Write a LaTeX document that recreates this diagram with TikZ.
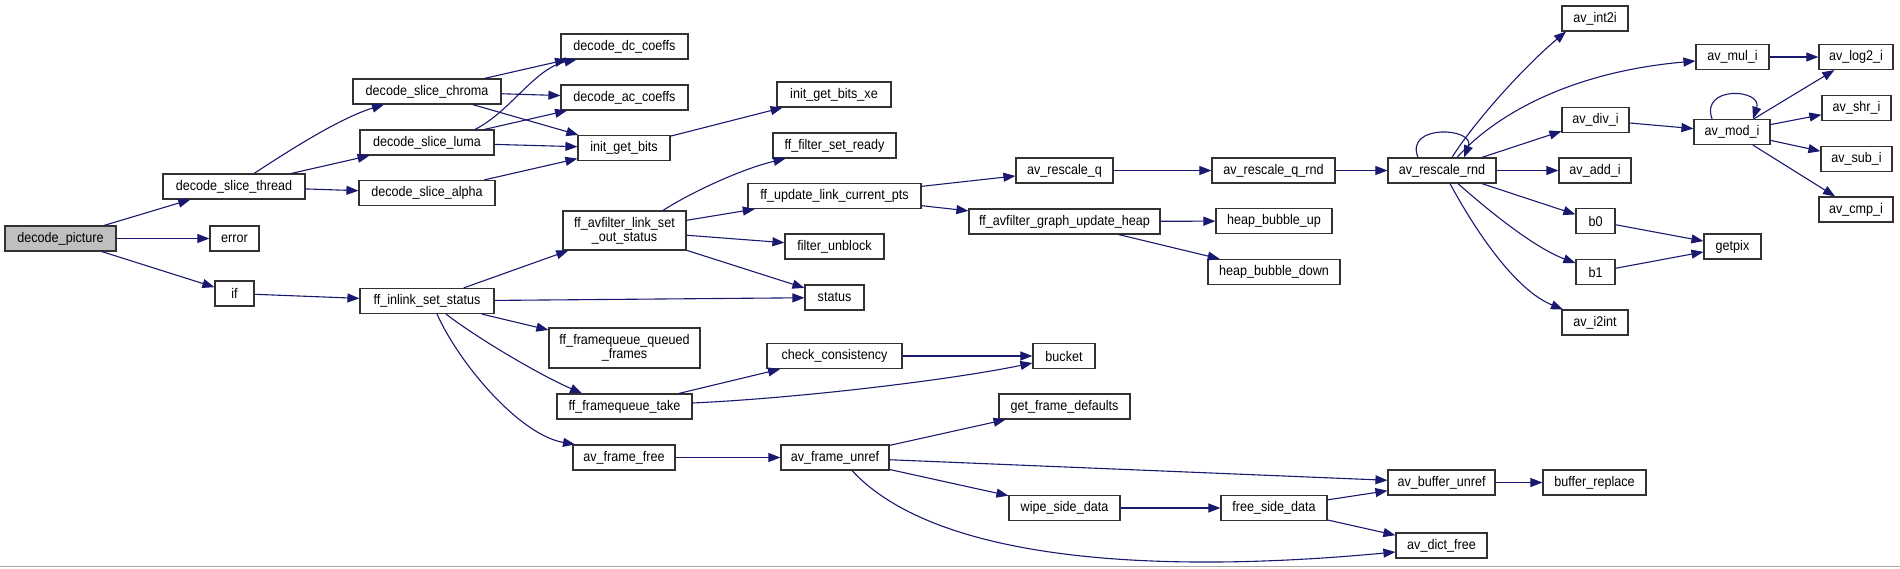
\documentclass[tikz,border=0pt]{standalone}
\usepackage{fontspec}
\setmainfont{Liberation Sans}[FakeStretch=0.9]
\usetikzlibrary{arrows.meta}
\definecolor{edgec}{RGB}{25,25,112}
\definecolor{boxc}{RGB}{50,50,50}
\definecolor{rootc}{RGB}{191,191,191}
\begin{document}
\begin{tikzpicture}[x=1pt,y=-1pt,
  font=\fontsize{14}{14}\selectfont,
  box/.style={draw=boxc,line width=1.2pt,fill=white,inner sep=0pt,minimum height=25pt,align=center},
  rootbox/.style={box,fill=rootc},
  edge/.style={draw=edgec,line width=1.1pt,-{Triangle[length=12pt,width=9pt]}}]
\useasboundingbox[fill=white] (0,0) rectangle (1900,568);
\draw[gray!70,line width=1.2pt] (0,566.5) -- (1900,566.5);
% column 0
\node[rootbox,minimum width=111pt] (dp) at (60.5,238.5) {decode\_picture};
% column 1
\node[box,minimum width=142pt] (dst) at (234,186.5) {decode\_slice\_thread};
\node[box,minimum width=49pt] (err) at (234.5,238.5) {error};
\node[box,minimum width=39pt] (if) at (234.5,293.5) {if};
% column 2
\node[box,minimum width=148pt] (chroma) at (427,91.5) {decode\_slice\_chroma};
\node[box,minimum width=134pt] (luma) at (427,142.5) {decode\_slice\_luma};
\node[box,minimum width=136pt] (alpha) at (427,193) {decode\_slice\_alpha};
\node[box,minimum width=134pt] (inlink) at (427,301) {ff\_inlink\_set\_status};
% column 3
\node[box,minimum width=127pt] (dc) at (624.5,46.5) {decode\_dc\_coeffs};
\node[box,minimum width=127pt] (ac) at (624.5,97.5) {decode\_ac\_coeffs};
\node[box,minimum width=92pt] (igb) at (624,148) {init\_get\_bits};
\node[box,minimum width=123pt,minimum height=39pt] (lso) at (624.5,230.5) {ff\_avfilter\_link\_set\\\_out\_status};
\node[box,minimum width=151pt,minimum height=40pt] (qf) at (624.5,348) {ff\_framequeue\_queued\\\_frames};
\node[box,minimum width=135pt] (take) at (624.5,406.5) {ff\_framequeue\_take};
\node[box,minimum width=102pt] (aff) at (624,457.5) {av\_frame\_free};
% column 4
\node[box,minimum width=114pt] (igbxe) at (834,94.5) {init\_get\_bits\_xe};
\node[box,minimum width=123pt] (fsr) at (834.5,145.5) {ff\_filter\_set\_ready};
\node[box,minimum width=173pt] (ulcp) at (834.5,196) {ff\_update\_link\_current\_pts};
\node[box,minimum width=99pt] (fu) at (834.5,246.5) {filter\_unblock};
\node[box,minimum width=59pt] (status) at (834.5,297.5) {status};
\node[box,minimum width=135pt] (cc) at (834.5,356) {check\_consistency};
\node[box,minimum width=108pt] (unref) at (835,457.5) {av\_frame\_unref};
% column 5
\node[box,minimum width=97pt] (arq) at (1064.5,170.5) {av\_rescale\_q};
\node[box,minimum width=191pt] (gauh) at (1064.5,221.5) {ff\_avfilter\_graph\_update\_heap};
\node[box,minimum width=62pt] (bucket) at (1064,356) {bucket};
\node[box,minimum width=131pt] (gfd) at (1064.5,406.5) {get\_frame\_defaults};
\node[box,minimum width=111pt] (wsd) at (1064.5,508) {wipe\_side\_data};
% column 6
\node[box,minimum width=123pt] (arqr) at (1273.5,170.5) {av\_rescale\_q\_rnd};
\node[box,minimum width=116pt] (hbu) at (1274,221) {heap\_bubble\_up};
\node[box,minimum width=132pt] (hbd) at (1274,272) {heap\_bubble\_down};
\node[box,minimum width=106pt] (fsd) at (1274,508) {free\_side\_data};
% column 7
\node[box,minimum width=108pt] (arr) at (1442,170.5) {av\_rescale\_rnd};
\node[box,minimum width=107pt] (abu) at (1441.5,482.5) {av\_buffer\_unref};
\node[box,minimum width=91pt] (adf) at (1441.5,545.5) {av\_dict\_free};
% column 8
\node[box,minimum width=66pt] (int2i) at (1595,18.5) {av\_int2i};
\node[box,minimum width=67pt] (divi) at (1595.5,120) {av\_div\_i};
\node[box,minimum width=72pt] (addi) at (1595,170.5) {av\_add\_i};
\node[box,minimum width=39pt] (b0) at (1595.5,221) {b0};
\node[box,minimum width=39pt] (b1) at (1595.5,272) {b1};
\node[box,minimum width=66pt] (i2int) at (1595,322.5) {av\_i2int};
\node[box,minimum width=103pt] (br) at (1594.5,482.5) {buffer\_replace};
% column 9
\node[box,minimum width=73pt] (muli) at (1732.5,57) {av\_mul\_i};
\node[box,minimum width=76pt] (modi) at (1732,132) {av\_mod\_i};
\node[box,minimum width=57pt] (getpix) at (1732.5,246.5) {getpix};
% column 10
\node[box,minimum width=74pt] (log2) at (1856,57) {av\_log2\_i};
\node[box,minimum width=69pt] (shr) at (1856.5,108) {av\_shr\_i};
\node[box,minimum width=71pt] (sub) at (1856.5,159) {av\_sub\_i};
\node[box,minimum width=74pt] (cmp) at (1856,209.5) {av\_cmp\_i};

% edges
\draw[edge] (dp) -- (dst);
\draw[edge] (dp) -- (err);
\draw[edge] (dp) -- (if);
\draw[edge] (dst) .. controls (290,150) and (340,118) .. (chroma);
\draw[edge] (dst) -- (luma);
\draw[edge] (dst) -- (alpha);
\draw[edge] (chroma) -- (dc);
\draw[edge] (chroma) -- (ac);
\draw[edge] (chroma) -- (igb);
\draw[edge] ([xshift=48pt]luma.north) .. controls (510,112) and (535,68) .. ([xshift=-48pt]dc.south);
\draw[edge] (luma) -- (ac);
\draw[edge] (luma) -- (igb);
\draw[edge] (alpha) -- (igb);
\draw[edge] (igb) -- (igbxe);
\draw[edge] (if) -- (inlink);
\draw[edge] (inlink) -- (lso);
\draw[edge] (inlink) -- (status);
\draw[edge] (inlink) -- (qf);
\draw[edge] ([xshift=19pt]inlink.south) .. controls (480,340) and (540,375) .. ([xshift=-42.5pt]take.north);
\draw[edge] ([xshift=10pt]inlink.south) .. controls (460,365) and (520,435) .. ([xshift=-49pt]aff.north);
\draw[edge] ([xshift=38.5pt]lso.north) .. controls (695,190) and (745,168) .. ([xshift=-49pt]fsr.south);
\draw[edge] (lso) -- (ulcp);
\draw[edge] (lso) -- (fu);
\draw[edge] (lso) -- (status);
\draw[edge] (ulcp) -- (arq);
\draw[edge] (ulcp) -- (gauh);
\draw[edge] (arq) -- (arqr);
\draw[edge] (arqr) -- (arr);
\draw[edge] (gauh) -- (hbu);
\draw[edge] (gauh) -- (hbd);
\draw[edge] ([xshift=-24pt]arr.north) .. controls +(-14,-34) and +(12,-30) .. ([xshift=22pt]arr.north);
\draw[edge] ([xshift=10pt]arr.north) .. controls (1470,128) and (1520,70) .. ([xshift=-29pt]int2i.south);
\draw[edge] ([xshift=15pt]arr.north) .. controls (1495,115) and (1570,72) .. ([yshift=-4pt]muli.west);
\draw[edge] (arr) -- (divi);
\draw[edge] (arr) -- (addi);
\draw[edge] (arr) -- (b0);
\draw[edge] ([xshift=16pt]arr.south) .. controls (1490,212) and (1535,248) .. ([yshift=9pt]b1.west);
\draw[edge] ([xshift=8pt]arr.south) .. controls (1475,230) and (1515,290) .. ([xshift=-32pt]i2int.north);
\draw[edge] (muli) -- (log2);
\draw[edge] (divi) -- (modi);
\draw[edge] ([xshift=-20pt]modi.north) .. controls +(-12,-34) and +(10,-30) .. ([xshift=21pt]modi.north);
\draw[edge] (modi) -- (log2);
\draw[edge] (modi) -- (shr);
\draw[edge] (modi) -- (sub);
\draw[edge] (modi) -- (cmp);
\draw[edge] (b0) -- (getpix);
\draw[edge] (b1) -- (getpix);
\draw[edge] (take) -- (cc);
\draw[edge] ([yshift=3.5pt]take.east) .. controls (800,398) and (950,380) .. ([yshift=-7pt]bucket.west);
\draw[edge] (cc) -- (bucket);
\draw[edge] (aff) -- (unref);
\draw[edge] (unref) -- (gfd);
\draw[edge] (unref) -- (abu);
\draw[edge] (unref) -- (wsd);
\draw[edge] ([xshift=17pt]unref.south) .. controls (935,560) and (1150,575) .. ([yshift=-6.5pt]adf.west);
\draw[edge] (wsd) -- (fsd);
\draw[edge] (fsd) -- (abu);
\draw[edge] (fsd) -- (adf);
\draw[edge] (abu) -- (br);
\end{tikzpicture}
\end{document}
